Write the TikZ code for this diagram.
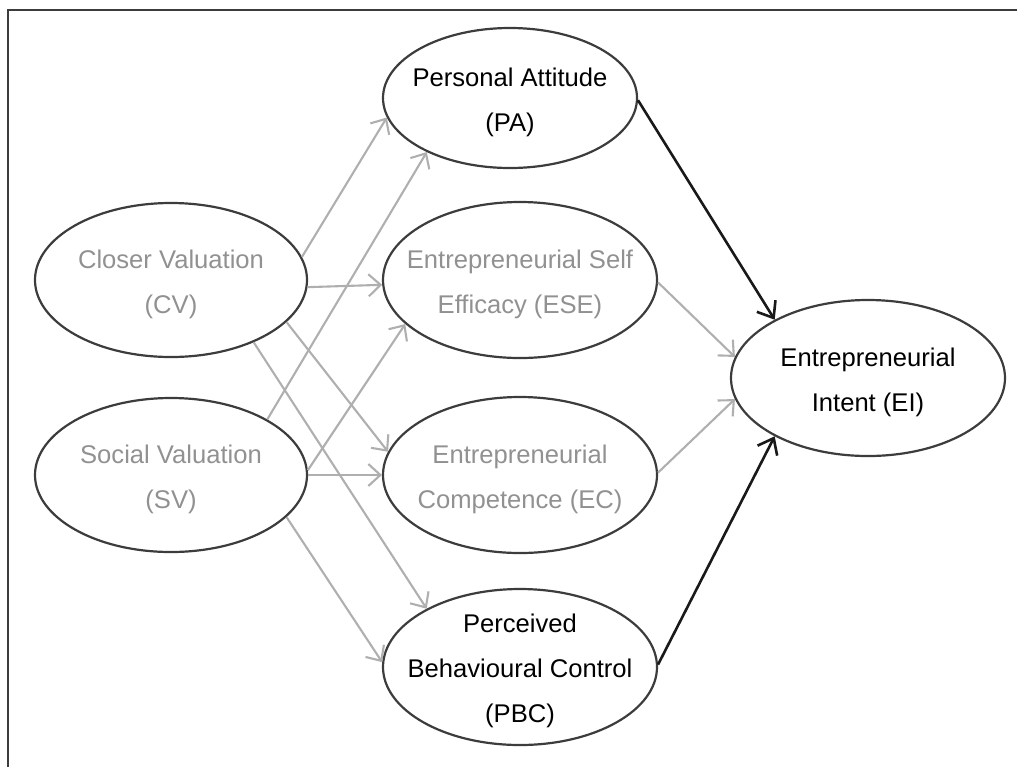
\documentclass[tikz,border=0pt]{standalone}
\usepackage{fontspec}
\setmainfont{Liberation Sans}
\usetikzlibrary{shapes.geometric,arrows.meta}
\definecolor{edgec}{RGB}{60,60,60}
\definecolor{graytxt}{RGB}{145,145,145}
\definecolor{grayarr}{RGB}{175,175,175}
\definecolor{blkarr}{RGB}{25,25,25}
\begin{document}
\begin{tikzpicture}[x=0.5pt,y=-0.5pt,
  oval/.style={ellipse, draw=edgec, line width=1.1pt, inner sep=0pt, minimum width=137pt, minimum height=78pt},
  ovalpa/.style={oval, minimum width=127pt, minimum height=70pt},
  ovalleft/.style={oval, minimum width=136pt, minimum height=77pt},
  lbl/.style={font=\fontsize{12.8}{22.5}\selectfont, align=center, inner sep=0pt, yshift=-2pt},
  lblgray/.style={lbl, text=graytxt},
  lblblack/.style={lbl, text=black},
  garrow/.style={draw=grayarr, line width=1.05pt, -{Straight Barb[length=6pt,width=11pt]}},
  barrow/.style={draw=blkarr, line width=1.3pt, -{Straight Barb[length=7pt,width=11pt]}}
]
\useasboundingbox (0,0) rectangle (1017,767);
\draw[draw=edgec, line width=1pt] (8,767) -- (8,9.5) -- (1017,9.5);

\node[ovalleft] (cv) at (171,280) {};
\node[ovalleft] (sv) at (171,475) {};
\node[ovalpa] (pa) at (510,98) {};
\node[oval] (ese) at (520,280) {};
\node[oval] (ec) at (520,475) {};
\node[oval] (pbc) at (520,667) {};
\node[oval] (ei) at (868,378) {};

\node[lblgray] (cvt) at (cv) {Closer Valuation\\(CV)};
\node[lblgray] (svt) at (sv) {Social Valuation\\(SV)};
\node[lblblack] (pat) at (pa) {Personal Attitude\\(PA)};
\node[lblgray] (eset) at (ese) {Entrepreneurial Self\\Efficacy (ESE)};
\node[lblgray] (ect) at (ec) {Entrepreneurial\\Competence (EC)};
\node[lblblack] (pbct) at (pbc) {Perceived\\Behavioural Control\\(PBC)};
\node[lblblack] (eit) at (ei) {Entrepreneurial\\Intent (EI)};

\draw[garrow] (cv.10) -- (pa.189);
\draw[garrow] (sv.30) -- (pa.213);
\draw[garrow] (cv.-3) -- (ese.182);
\draw[garrow] (sv.2) -- (ese.201);
\draw[garrow] (cv.-20) -- (ec.170);
\draw[garrow] (sv.0) -- (ec.180);
\draw[garrow] (cv.-37) -- (pbc.148);
\draw[garrow] (sv.-20) -- (pbc.178);
\draw[garrow] (ese.-1) -- (ei.171);
\draw[garrow] (ec.1) -- (ei.189);
\draw[barrow] (pa.-1) -- (ei.148);
\draw[barrow] (pbc.1) -- (ei.212);
\end{tikzpicture}
\end{document}
